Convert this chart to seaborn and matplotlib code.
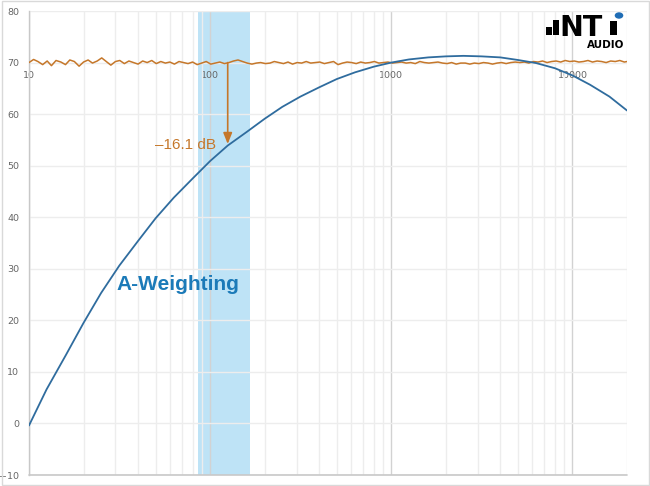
import numpy as np
import pandas as pd
import matplotlib
matplotlib.use("Agg")
import matplotlib.pyplot as plt
import seaborn as sns
from matplotlib.ticker import LogLocator, NullFormatter
from matplotlib.patches import Rectangle, Circle

# ---------------- data ----------------
# A-weighting (third-octave centre frequencies, dB)
aw_freq = [10, 12.5, 16, 20, 25, 31.5, 40, 50, 63, 80, 100, 125, 160, 200, 250, 315,
           400, 500, 630, 800, 1000, 1250, 1600, 2000, 2500, 3150, 4000, 5000, 6300,
           8000, 10000, 12500, 16000, 20000]
aw_db = [-70.4, -63.4, -56.7, -50.5, -44.7, -39.4, -34.6, -30.2, -26.2, -22.5, -19.1,
         -16.1, -13.4, -10.9, -8.6, -6.6, -4.8, -3.2, -1.9, -0.8, 0.0, 0.6, 1.0, 1.2,
         1.3, 1.2, 1.0, 0.5, -0.1, -1.1, -2.5, -4.3, -6.6, -9.3]
ref_level = 70

# measured flat noise spectrum around 70 dB
noise_freq = [10.0, 10.6, 11.2, 11.9, 12.6, 13.3, 14.1, 15.0, 15.9, 16.8, 17.8, 18.9,
              20.0, 21.2, 22.4, 23.8, 25.2, 26.7, 28.3, 30.0, 31.7, 33.6, 35.6, 37.8,
              40, 42.4, 44.9, 47.6, 50.4, 53.4, 56.6, 59.9, 63.5, 67.3, 71.3, 75.5,
              80, 84.8, 89.8, 95.1, 100.8, 106.8, 113.1, 119.9, 127.0, 134.5, 142.5, 151.0,
              160, 170, 180, 190, 202, 214, 226, 240, 254, 269, 285, 302,
              320, 339, 359, 381, 403, 427, 453, 480, 508, 538, 570, 604,
              640, 678, 718, 761, 806, 854, 905, 959, 1016, 1076, 1140, 1208,
              1280, 1356, 1437, 1522, 1613, 1709, 1810, 1918, 2032, 2153, 2281, 2416,
              2560, 2712, 2874, 3044, 3225, 3417, 3620, 3836, 4064, 4305, 4561, 4833,
              5120, 5424, 5747, 6089, 6451, 6834, 7241, 7671, 8127, 8611, 9123, 9665,
              10240, 10849, 11494, 12177, 12901, 13669, 14482, 15343, 16255, 17222, 18245,
              19330, 20000]
noise_db = [70.0, 70.6, 70.2, 69.6, 70.3, 69.4, 70.4, 70.1, 69.6, 70.5, 70.2, 69.3,
            70.1, 70.5, 69.9, 70.3, 70.9, 70.2, 69.5, 70.2, 70.4, 69.8, 70.3, 70.0,
            69.7, 70.3, 70.0, 70.4, 69.8, 70.2, 69.9, 70.1, 69.7, 70.2, 70.0, 69.8,
            70.1, 69.6, 69.9, 70.2, 69.7, 69.9, 70.1, 69.8, 70.0, 70.3, 70.5, 70.2,
            69.9, 69.7, 69.9, 70.0, 69.8, 69.9, 70.2, 70.0, 69.8, 70.1, 69.7, 70.0,
            69.9, 70.2, 69.9, 70.0, 70.1, 69.8, 70.0, 70.2, 69.6, 69.9, 70.1, 70.0,
            69.8, 70.1, 69.9, 70.0, 70.2, 69.9, 70.0, 70.1, 69.9, 70.0, 70.1, 69.9,
            70.0, 69.8, 70.2, 70.0, 69.9, 70.0, 70.1, 69.9, 69.8, 70.0, 69.7, 69.9,
            69.9, 69.7, 69.9, 69.8, 70.0, 69.9, 69.7, 69.9, 70.0, 69.8, 70.0, 70.1,
            70.0, 70.1, 69.9, 70.2, 70.1, 70.3, 70.0, 70.2, 70.3, 70.1, 70.4, 70.2,
            70.3, 70.1, 70.2, 70.4, 70.1, 70.3, 70.2, 70.0, 70.3, 70.2, 70.4, 70.1, 70.2]

band_lo, band_hi = 86, 166          # highlighted octave band
marker_freq = 125                   # frequency of the arrow
marker_db = -16.1

y_ticks = [-10, 0, 10, 20, 30, 40, 50, 60, 70, 80]
x_ticks = [10, 100, 1000, 10000]
x_labels = ["10", "100", "1000", "10000"]

# ---------------- styling ----------------
sns.set_theme(style="white")
plt.rcParams["font.family"] = ["Liberation Sans", "DejaVu Sans"]

ORANGE = "#C5772A"
BLUE_LINE = "#2F6C9E"
BLUE_TEXT = "#1B7AB8"
BAND = "#BEE3F6"
GRID = "#EDEDED"
GRID_MAJOR = "#D2D2D2"
TICK_COL = "#666666"

W, H = 650, 486
fig = plt.figure(figsize=(6.5, 4.86), dpi=100)

def px(x, y):
    return x / W, 1 - y / H

left, right, top, bottom = 29, 627, 11, 475
ax = fig.add_axes([left / W, 1 - bottom / H, (right - left) / W, (bottom - top) / H])

df_aw = pd.DataFrame({"freq": aw_freq, "level": [ref_level + v for v in aw_db]})
df_noise = pd.DataFrame({"freq": noise_freq, "level": noise_db})

ax.set_xscale("log")
ax.axvspan(band_lo, band_hi, color=BAND, zorder=0.5, lw=0)

sns.lineplot(data=df_noise, x="freq", y="level", ax=ax, color=ORANGE, lw=1.1, zorder=3)
sns.lineplot(data=df_aw, x="freq", y="level", ax=ax, color=BLUE_LINE, lw=1.3, zorder=4)

ax.set_xlim(10, 20000)
ax.set_ylim(-10, 80)
ax.set_xlabel("")
ax.set_ylabel("")

# grid
ax.set_yticks(y_ticks)
ax.set_xticks(x_ticks)
ax.set_xticklabels(x_labels)
ax.xaxis.set_minor_locator(LogLocator(base=10, subs=np.arange(2, 10)))
ax.xaxis.set_minor_formatter(NullFormatter())
ax.grid(True, which="major", axis="y", color=GRID, lw=1.0, zorder=0)
ax.grid(True, which="minor", axis="x", color=GRID, lw=1.0, zorder=0)
ax.grid(True, which="major", axis="x", color=GRID_MAJOR, lw=1.0, zorder=0)
ax.set_axisbelow(True)

# spines / axis crossing at 70
for s in ["top", "right"]:
    ax.spines[s].set_visible(False)
ax.spines["left"].set_color("#C8C8C8")
ax.spines["left"].set_linewidth(1.0)
ax.spines["bottom"].set_position(("data", 70))
ax.spines["bottom"].set_visible(False)
ax.axhline(-10, color="#C8C8C8", lw=1.2, clip_on=False, zorder=2)

ax.tick_params(axis="both", which="both", length=0, labelsize=6.8, colors=TICK_COL)
ax.tick_params(axis="y", pad=7)
ax.tick_params(axis="x", pad=6)
for lab in ax.get_xticklabels() + ax.get_yticklabels():
    lab.set_family(["DejaVu Sans"])

# annotation arrow and labels
ax.annotate("", xy=(marker_freq, ref_level + marker_db + 0.3), xytext=(marker_freq, ref_level),
            arrowprops=dict(arrowstyle="-|>,head_length=0.55,head_width=0.22",
                            color=ORANGE, lw=1.2, shrinkA=0, shrinkB=0), zorder=5)
ax.text(108, 54.0, "\u201316.1 dB", color=ORANGE, fontsize=11, ha="right", va="center")
ax.text(66, 27.0, "A-Weighting", color=BLUE_TEXT, fontsize=15, fontweight="bold",
        ha="center", va="center")

# outer chart border
fig.add_artist(Rectangle(px(1.5, 484.5), 647 / W, 483 / H, transform=fig.transFigure,
                         fill=False, edgecolor="#D9D9D9", lw=1.0))

# logo
def prect(x0, y0, x1, y1, color):
    fig.add_artist(Rectangle(px(x0, y1), (x1 - x0) / W, (y1 - y0) / H,
                             transform=fig.transFigure, color=color, lw=0))

prect(546, 27, 552, 35, "black")
prect(553, 20, 559, 35, "black")
fig.text(*px(559, 35.5), "NT", fontsize=20.5, fontweight="bold", color="black",
         family=["DejaVu Sans"], ha="left", va="baseline")
prect(610, 21, 617, 35, "black")
fig.add_artist(Circle(px(619, 15.5), 4.3 / W, transform=fig.transFigure, color="#1F6DB5", lw=0))
fig.text(*px(624, 47.5), "AUDIO", fontsize=7.5, fontweight="bold", color="black",
         family=["DejaVu Sans"], ha="right", va="baseline")

fig.savefig("out.png", dpi=100, facecolor="white")
